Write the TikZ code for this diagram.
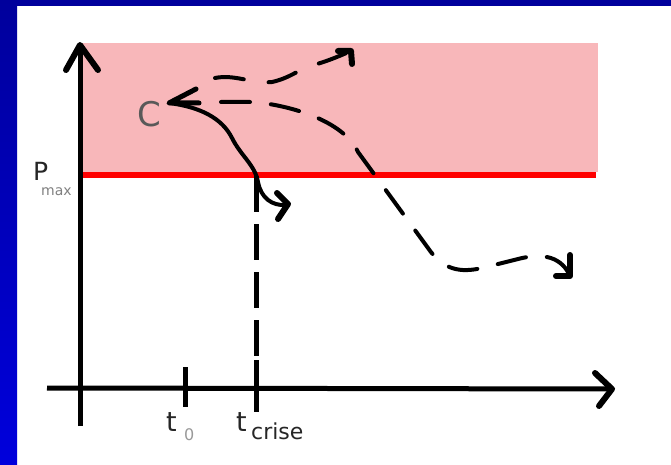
\documentclass[tikz,border=0pt]{standalone}
\usepackage{fontspec}
\setmainfont{DejaVu Sans}
\definecolor{blueA}{HTML}{00009C}
\definecolor{blueB}{HTML}{0000DC}
\definecolor{pinkc}{HTML}{F8B7BA}
\definecolor{redc}{HTML}{FF0000}
\begin{document}
\begin{tikzpicture}[x=1pt,y=-1pt,
  ax/.style={line width=5pt},
  head/.style={line width=6pt, line cap=round, line join=round},
  ink/.style={line width=4pt, line cap=round, line join=round},
  dsh/.style={ink, dash pattern=on 29pt off 21pt},
  lbl/.style={inner sep=0pt, anchor=base west, text=black!85}]
\useasboundingbox (0,0) rectangle (671,465);
\fill[white] (0,0) rectangle (671,465);
\fill[blueA] (0,0) rectangle (671,6);
\shade[top color=blueA, bottom color=blueB] (0,0) rectangle (17,465);
% zone
\fill[pinkc] (80,43) rectangle (598,172);
\coordinate (R1) at (80,175);
\coordinate (R2) at (596,175);
\draw[redc, line width=6pt] (R1) -- (R2);
% axes
\coordinate (Ybot) at (80,426);
\coordinate (Ytip) at (80,45);
\coordinate (Xleft) at (47,388);
\coordinate (Xtip) at (612,389);
\draw[ax] (Ybot) -- (Ytip);
\draw[head] (66,70) -- (Ytip) -- (98,70);
\draw[ax] (Xleft) -- (Xtip);
\draw[head] (595,373) -- (Xtip) -- (599,406);
% ticks
\coordinate (T0a) at (185,367);
\coordinate (T0b) at (185,407);
\draw[ax] (T0a) -- (T0b);
\coordinate (TCa) at (256,176);
\coordinate (TCm) at (256,360);
\coordinate (TCb) at (256,412);
\draw[line width=5pt, dash pattern=on 36pt off 12pt] (TCa) -- (TCm);
\draw[ax] (TCm) -- (TCb);
% labels
\node[lbl, font=\fontsize{25}{25}\selectfont] (P) at (33,180) {P};
\node[lbl, font=\fontsize{14}{14}\selectfont, text=black!50] (max) at (41,195) {max};
\node[lbl, font=\fontsize{34}{34}\selectfont, text=black!65] (C) at (137,127) {C};
\node[lbl, font=\fontsize{27}{27}\selectfont] (t0) at (166,431) {t};
\node[lbl, font=\fontsize{16}{16}\selectfont, text=black!40] (zero) at (184,440) {0};
\node[lbl, font=\fontsize{27}{27}\selectfont] (tc) at (236,431) {t};
\node[lbl, font=\fontsize{22}{22}\selectfont] (crise) at (251,439) {crise};
% arrow at C
\coordinate (Ctip) at (169,103);
\draw[ink, line width=5pt] (196,89) -- (Ctip) -- (199,103);
% solid curve
\coordinate (Send) at (286,205);
\draw[ink] (Ctip) .. controls (200,107) and (222,118) .. (232,138)
  .. controls (241,156) and (255,165) .. (258,182)
  .. controls (261,198) and (272,206) .. (Send);
\draw[head] (277,193) -- (288,204) -- (278,219);
% upper dashed branch
\coordinate (U0) at (215,78);
\coordinate (Utip) at (351,51);
\draw[ink, dash pattern=on 29pt off 25pt] (U0) .. controls (235,74) and (252,84) .. (272,82)
  .. controls (290,78) and (298,70) .. (310,66)
  .. controls (325,62) and (335,58) .. (Utip);
\draw[head] (338,51) -- (Utip) -- (352,64);
% lower dashed branch
\coordinate (L0) at (221,102);
\coordinate (Ltip) at (570,276);
\draw[dsh] (L0) -- (255,102) .. controls (300,107) and (345,124) .. (358,152)
  -- (428,248) .. controls (443,270) and (460,273) .. (482,268)
  -- (518,259) .. controls (545,252) and (562,258) .. (Ltip);
\draw[head] (570,255) -- (Ltip) -- (556,276);
\end{tikzpicture}
\end{document}
